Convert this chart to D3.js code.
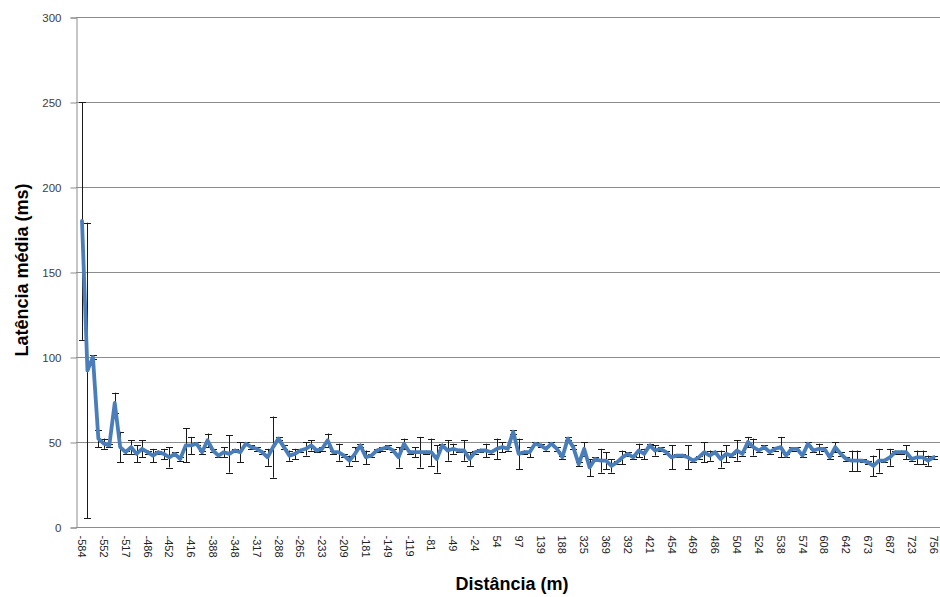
<!DOCTYPE html>
<html><head><meta charset="utf-8">
<script src="https://cdn.jsdelivr.net/npm/d3@7"></script>
<style>
html,body{margin:0;padding:0;background:#fff;}
svg{display:block;font-family:"Liberation Sans",Arial,sans-serif;}
</style></head>
<body><svg id="c" width="940" height="597"></svg>
<script>
// Tick labels shown on the category axis (every 4th category)
const distLabels = ["-584","-552","-517","-486","-452","-416","-388","-348","-317","-288",
  "-265","-233","-209","-181","-149","-119","-81","-49","-24","54",
  "97","139","188","325","369","392","421","454","469","486",
  "504","524","538","574","608","642","673","687","723","756"];
const labelStep = 4;
// Mean latency (ms) per distance category
const latency = [
  180, 92,100, 52, 49, 48, 73, 47, 44, 47,
   43, 46, 44, 42, 44, 43, 41, 43, 40, 48,
   48, 49, 44, 51, 45, 42, 44, 43, 45, 44,
   49, 47, 46, 44, 41, 47, 52, 47, 42, 43,
   45, 46, 48, 45, 46, 51, 44, 44, 42, 39,
   43, 48, 41, 42, 45, 46, 47, 45, 41, 49,
   44, 44, 44, 44, 44, 40, 48, 45, 46, 45,
   45, 40, 44, 45, 45, 44, 46, 47, 46, 56,
   43, 44, 44, 49, 48, 46, 49, 46, 41, 52,
   47, 37, 46, 35, 40, 39, 39, 36, 38, 41,
   43, 41, 45, 43, 48, 45, 46, 44, 41, 42,
   42, 41, 39, 41, 44, 42, 44, 40, 43, 42,
   45, 43, 50, 47, 45, 47, 44, 46, 47, 42,
   46, 46, 42, 49, 45, 46, 46, 41, 47, 43,
   40, 39, 39, 39, 38, 36, 39, 39, 41, 44,
   44, 44, 40, 41, 41, 39, 41];
// Error bar half-width (ms)
const errHalf = [
   70, 87,  1,  5,  3,  1,  6,  9,  1,  4,
    5,  5,  1,  4,  1,  3,  6,  1,  1, 10,
    5,  1,  1,  4,  1,  1,  3, 11,  1,  6,
    1,  1,  1,  1,  5, 18,  1,  1,  3,  3,
    1,  4,  3,  1,  1,  4,  1,  5,  1,  3,
    4,  1,  4,  1,  1,  1,  1,  1,  6,  3,
    1,  3,  9,  1,  8,  8,  1,  6,  3,  1,
    6,  4,  1,  1,  4,  1,  6,  3,  1,  1,
    9,  1,  3,  1,  1,  1,  1,  1,  1,  1,
    1,  1,  4,  5,  1,  7,  5,  4,  1,  4,
    1,  1,  4,  3,  1,  3,  1,  1,  7,  1,
    1,  7,  1,  1,  6,  3,  1,  5,  5,  1,
    6,  1,  3,  5,  1,  1,  1,  1,  6,  1,
    1,  1,  1,  1,  1,  3,  1,  1,  3,  1,
    1,  6,  6,  1,  1,  6,  7,  1,  5,  1,
    1,  4,  1,  4,  4,  3,  1];
const yTicks = [0, 50, 100, 150, 200, 250, 300];
const yTitle = "Latência média (ms)";
const xTitle = "Distância (m)";

const svg = d3.select("#c");
const plotL = 76, plotR = 940, plotT = 17, plotB = 527;

const idx = d3.range(latency.length);
const x = d3.scalePoint().domain(idx).range([82, 933.5]);
const y = d3.scaleLinear().domain([0, 300]).range([plotB, plotT]);

// gridlines
svg.append("g").selectAll("line").data(yTicks.filter(d => d > 0)).join("line")
  .attr("x1", plotL).attr("x2", plotR)
  .attr("y1", d => y(d) + 0.5).attr("y2", d => y(d) + 0.5)
  .attr("stroke", "#8c8c8c").attr("stroke-width", 1);

// y axis
const yAxis = d3.axisLeft(y).tickValues(yTicks).tickSize(6).tickPadding(9);
const gy = svg.append("g").attr("transform", `translate(${plotL + 0.5},0.5)`).call(yAxis);
gy.select(".domain").attr("stroke", "#8c8c8c");
gy.selectAll(".tick line").attr("stroke", "#8c8c8c");
gy.selectAll(".tick text").attr("fill", "#404040").style("font-size", "11.5px");

// x axis
const xAxis = d3.axisBottom(x)
  .tickValues(idx.filter(i => i % labelStep === 0))
  .tickFormat(i => distLabels[i / labelStep])
  .tickSize(0);
const gx = svg.append("g").attr("transform", `translate(0,${plotB + 0.5})`).call(xAxis);
gx.select(".domain").attr("stroke", "#8c8c8c").attr("d", `M${plotL},0H${plotR}`);
gx.selectAll(".tick text")
  .attr("fill", "#222").style("font-size", "11px")
  .attr("text-anchor", "start")
  .attr("transform", "rotate(90)")
  .attr("x", 8).attr("y", 0).attr("dy", "0.4em");

// error bars (under the line)
const eb = svg.append("g").attr("stroke", "#1a1a1a").attr("stroke-width", 1);
idx.forEach(i => {
  const cx = Math.round(x(i)) + 0.5;
  const y1 = y(latency[i] + errHalf[i]), y2 = y(latency[i] - errHalf[i]);
  eb.append("line").attr("x1", cx).attr("x2", cx).attr("y1", y1).attr("y2", y2);
  eb.append("line").attr("x1", cx - 3.5).attr("x2", cx + 3.5).attr("y1", Math.round(y1) + 0.5).attr("y2", Math.round(y1) + 0.5);
  eb.append("line").attr("x1", cx - 3.5).attr("x2", cx + 3.5).attr("y1", Math.round(y2) + 0.5).attr("y2", Math.round(y2) + 0.5);
});

// line
const line = d3.line().x(i => x(i)).y(i => y(latency[i]));
svg.append("path").datum(idx).attr("d", line)
  .attr("fill", "none").attr("stroke", "#4a7ebb").attr("stroke-width", 3.8)
  .attr("stroke-linejoin", "round").attr("stroke-linecap", "round");

// titles
svg.append("text").text(yTitle)
  .attr("transform", "translate(28,270) rotate(-90)")
  .attr("text-anchor", "middle").attr("font-weight", "bold")
  .style("font-size", "18px").attr("fill", "#000");
svg.append("text").text(xTitle)
  .attr("x", 512).attr("y", 590)
  .attr("text-anchor", "middle").attr("font-weight", "bold")
  .style("font-size", "18px").attr("fill", "#000");
</script></body></html>
